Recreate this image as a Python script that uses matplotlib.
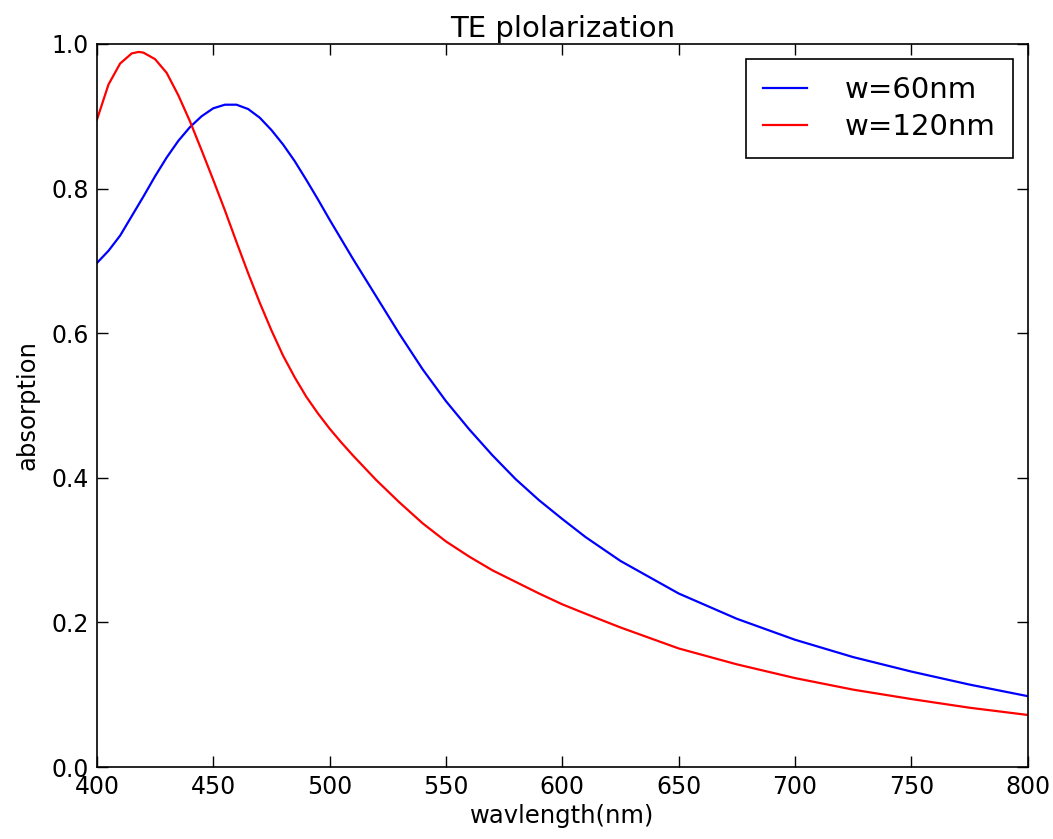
import matplotlib
matplotlib.use('Agg')
import matplotlib.pyplot as plt

# values
wl_60 = [400, 405, 410, 415, 420, 425, 430, 435, 440, 445, 450, 455, 460,
         465, 470, 475, 480, 485, 490, 495, 500, 505, 510, 515, 520, 530,
         540, 550, 560, 570, 580, 590, 600, 610, 625, 650, 675, 700, 725,
         750, 775, 800]
abs_60 = [0.697, 0.714, 0.735, 0.762, 0.789, 0.817, 0.843, 0.866, 0.885,
          0.900, 0.911, 0.916, 0.916, 0.910, 0.898, 0.881, 0.861, 0.838,
          0.812, 0.785, 0.757, 0.730, 0.703, 0.677, 0.651, 0.599, 0.550,
          0.506, 0.467, 0.431, 0.398, 0.369, 0.343, 0.318, 0.285, 0.240,
          0.205, 0.176, 0.152, 0.132, 0.114, 0.098]

wl_120 = [400, 405, 410, 415, 418, 420, 425, 430, 435, 440, 445, 450, 455,
          460, 465, 470, 475, 480, 485, 490, 495, 500, 505, 510, 515, 520,
          530, 540, 550, 560, 570, 580, 590, 600, 610, 625, 650, 675, 700,
          725, 750, 775, 800]
abs_120 = [0.895, 0.944, 0.973, 0.987, 0.989, 0.988, 0.979, 0.960, 0.929,
           0.893, 0.853, 0.812, 0.770, 0.726, 0.683, 0.642, 0.604, 0.569,
           0.539, 0.512, 0.489, 0.468, 0.449, 0.431, 0.414, 0.397, 0.366,
           0.337, 0.312, 0.291, 0.272, 0.256, 0.240, 0.225, 0.212, 0.193,
           0.164, 0.142, 0.123, 0.107, 0.094, 0.082, 0.072]

plt.rcParams['font.family'] = ['DejaVu Sans']

fig = plt.figure(figsize=(10.53, 8.39), dpi=100)
fig.patch.set_facecolor('white')
ax = fig.add_axes([0.092, 0.0858, 0.884, 0.8618])

ax.plot(wl_60, abs_60, color='blue', linewidth=1.6, label='w=60nm')
ax.plot(wl_120, abs_120, color='red', linewidth=1.6, label='w=120nm')

ax.set_xlim(400, 800)
ax.set_ylim(0.0, 1.0)
ax.set_xticks(range(400, 801, 50))
ax.set_yticks([0.0, 0.2, 0.4, 0.6, 0.8, 1.0])
ax.set_yticklabels(['0.0', '0.2', '0.4', '0.6', '0.8', '1.0'])
ax.tick_params(direction='in', top=True, right=True, length=8, width=1,
               labelsize=17, pad=6)
for s in ax.spines.values():
    s.set_linewidth(1.2)

ax.set_title('TE plolarization', fontsize=21, pad=5)
ax.set_xlabel('wavlength(nm)', fontsize=17.5, labelpad=3)
ax.set_ylabel('absorption', fontsize=17.5, labelpad=8)

leg = ax.legend(loc='upper right', fontsize=21, fancybox=False,
                framealpha=1, edgecolor='black', handlelength=1.5,
                handletextpad=1.3, borderpad=0.6, labelspacing=0.3,
                borderaxespad=0.5)
leg.get_frame().set_linewidth(1.2)

fig.savefig('out.png', dpi=100, facecolor='white')
